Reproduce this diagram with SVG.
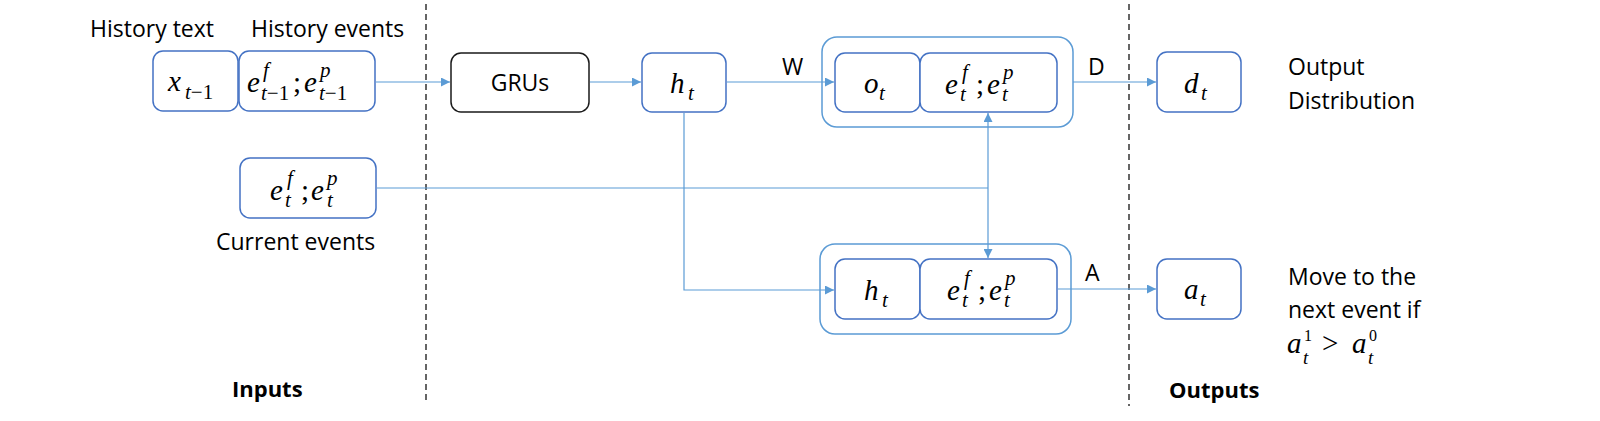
<svg xmlns="http://www.w3.org/2000/svg" width="1600" height="421" viewBox="0 0 1600 421">
<style>
.box{fill:#fff;stroke:#4472C4;stroke-width:1.5}
.outer{fill:#fff;stroke:#5B9BD5;stroke-width:1.5}
.gru{fill:#fff;stroke:#1a1a1a;stroke-width:1.5}
.con{fill:none;stroke:#5B9BD5;stroke-width:1.2}
.dash{fill:none;stroke:#333;stroke-width:1.5;stroke-dasharray:6 4}
.t{font-family:"Open Sans","Noto Sans",sans-serif;font-size:23px;fill:#000}
.b{font-family:"Open Sans","Noto Sans",sans-serif;font-size:22px;font-weight:bold;fill:#000}
.m{font-family:"Liberation Serif","DejaVu Serif",serif;font-style:italic;font-size:29px;fill:#000}
.s{font-family:"Liberation Serif","DejaVu Serif",serif;font-style:italic;font-size:21px;fill:#000}
.s3{font-family:"Liberation Serif","DejaVu Serif",serif;font-style:italic;font-size:19px;fill:#000}
.s2{font-family:"Liberation Serif","DejaVu Serif",serif;font-style:normal;font-size:16px;fill:#000}
.u{font-style:normal}
</style>
<defs>
<marker id="arr" viewBox="0 0 10 10" refX="10" refY="5" markerWidth="9" markerHeight="9" markerUnits="userSpaceOnUse" orient="auto-start-reverse">
<path d="M0,0 L10,5 L0,10 Z" fill="#5B9BD5"/>
</marker>
</defs>

<g id="dividers">
<line class="dash" x1="426" y1="4" x2="426" y2="404"/>
<line class="dash" x1="1129" y1="4" x2="1129" y2="406"/>
</g>

<g id="labels">
<text class="t" x="90" y="37">History text</text>
<text class="t" x="251" y="37">History events</text>
<text class="t" x="216" y="250">Current events</text>
<text class="b" x="232" y="397">Inputs</text>
<text class="b" x="1169" y="398">Outputs</text>
<text class="t" x="782" y="75">W</text>
<text class="t" x="1088" y="75">D</text>
<text class="t" x="1085" y="281">A</text>
<text class="t" x="1288" y="75">Output</text>
<text class="t" x="1288" y="109">Distribution</text>
<text class="t" x="1288" y="285">Move to the</text>
<text class="t" x="1288" y="318">next event if</text>
<text class="m" x="1287" y="353">a</text>
<text class="s2" x="1304" y="341">1</text>
<text class="s3" x="1303" y="364">t</text>
<text class="m" x="1322" y="353"><tspan class="u">&gt;</tspan></text>
<text class="m" x="1352" y="353">a</text>
<text class="s2" x="1369" y="341">0</text>
<text class="s3" x="1368" y="364">t</text>
</g>

<g id="node-x">
<rect class="box" x="153" y="51" width="85" height="60" rx="10"/>
<text class="m" x="168" y="91">x</text>
<text class="s" x="185" y="99">t<tspan class="u">−1</tspan></text>
</g>

<g id="node-hist-events">
<rect class="box" x="239" y="51" width="136" height="60" rx="10"/>
<text class="m" x="247" y="92">e</text>
<text class="s" x="263" y="77">f</text>
<text class="s" x="261" y="100">t<tspan class="u">−1</tspan></text>
<text class="m" x="293" y="92"><tspan class="u">;</tspan></text>
<text class="m" x="304" y="92">e</text>
<text class="s" x="320" y="77">p</text>
<text class="s" x="319" y="100">t<tspan class="u">−1</tspan></text>
</g>

<g id="node-current">
<rect class="box" x="240" y="158" width="136" height="60" rx="10"/>
<text class="m" x="270" y="200">e</text>
<text class="s" x="287" y="185">f</text>
<text class="s" x="285" y="207">t</text>
<text class="m" x="301" y="200"><tspan class="u">;</tspan></text>
<text class="m" x="311" y="200">e</text>
<text class="s" x="327" y="185">p</text>
<text class="s" x="327" y="207">t</text>
</g>

<g id="node-gru">
<rect class="gru" x="451" y="53" width="138" height="59" rx="10"/>
<text class="t" x="520" y="91" text-anchor="middle">GRUs</text>
</g>

<g id="node-h">
<rect class="box" x="642" y="53" width="84" height="59" rx="10"/>
<text class="m" x="670" y="93">h</text>
<text class="s" x="688" y="100">t</text>
</g>

<g id="node-top-combo">
<rect class="outer" x="822" y="37" width="251" height="90" rx="15"/>
<rect class="box" x="835" y="53" width="85" height="59" rx="10"/>
<text class="m" x="864" y="93">o</text>
<text class="s" x="879" y="100">t</text>
<rect class="box" x="920" y="53" width="137" height="59" rx="10"/>
<text class="m" x="945" y="94">e</text>
<text class="s" x="962" y="79">f</text>
<text class="s" x="960" y="101">t</text>
<text class="m" x="976" y="94"><tspan class="u">;</tspan></text>
<text class="m" x="987" y="94">e</text>
<text class="s" x="1003" y="79">p</text>
<text class="s" x="1002" y="101">t</text>
</g>

<g id="node-bottom-combo">
<rect class="outer" x="820" y="244" width="251" height="90" rx="15"/>
<rect class="box" x="835" y="259" width="85" height="60" rx="10"/>
<text class="m" x="864" y="300">h</text>
<text class="s" x="882" y="307">t</text>
<rect class="box" x="920" y="259" width="137" height="60" rx="10"/>
<text class="m" x="947" y="300">e</text>
<text class="s" x="964" y="285">f</text>
<text class="s" x="962" y="307">t</text>
<text class="m" x="978" y="300"><tspan class="u">;</tspan></text>
<text class="m" x="989" y="300">e</text>
<text class="s" x="1005" y="285">p</text>
<text class="s" x="1004" y="307">t</text>
</g>

<g id="node-d">
<rect class="box" x="1157" y="52" width="84" height="60" rx="10"/>
<text class="m" x="1184" y="93">d</text>
<text class="s" x="1201" y="100">t</text>
</g>

<g id="node-a">
<rect class="box" x="1157" y="259" width="84" height="60" rx="10"/>
<text class="m" x="1184" y="299">a</text>
<text class="s" x="1200" y="306">t</text>
</g>

<g id="connectors">
<line class="con" x1="376" y1="82" x2="450" y2="82" marker-end="url(#arr)"/>
<line class="con" x1="590" y1="82" x2="641" y2="82" marker-end="url(#arr)"/>
<line class="con" x1="727" y1="82" x2="834" y2="82" marker-end="url(#arr)"/>
<line class="con" x1="1073" y1="82" x2="1156" y2="82" marker-end="url(#arr)"/>
<polyline class="con" points="684,113 684,290 834,290" marker-end="url(#arr)"/>
<line class="con" x1="1058" y1="289" x2="1156" y2="289" marker-end="url(#arr)"/>
<line class="con" x1="377" y1="188" x2="988" y2="188"/>
<line class="con" x1="988" y1="113" x2="988" y2="258" marker-start="url(#arr)" marker-end="url(#arr)"/>
</g>
</svg>
